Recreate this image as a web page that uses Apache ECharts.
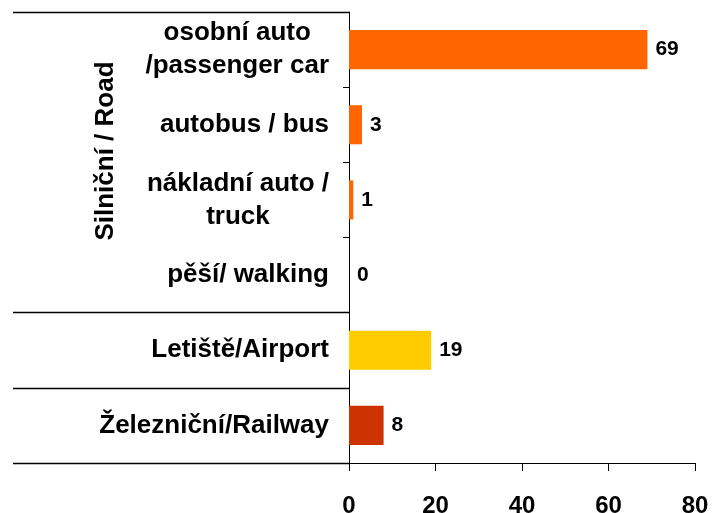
<!DOCTYPE html>
<html>
<head>
<meta charset="utf-8">
<script src="https://cdn.jsdelivr.net/npm/echarts@6/dist/echarts.min.js"></script>
<style>
    html, body {margin: 0; padding: 0; background: #fff;}
    #chart {width: 712px; height: 513px;}
</style>
</head>
<body>
<div id="chart"></div>
<script>
var categories = ['osobní auto\n/passenger car', 'autobus / bus', 'nákladní auto /\ntruck', 'pěší/ walking', 'Letiště/Airport', 'Železniční/Railway'];
var values = [69, 3, 1, 0, 19, 8];
var barColors = ['#FF6600', '#FF6600', '#FF6600', '#FF6600', '#FFCC00', '#CC3300'];
var xTicks = [0, 20, 40, 60, 80];
var groupLabel = 'Silniční / Road';
// category indices where a new group begins (long separator line)
var groupStarts = [0, 4, 5, 6];

var font = '"Liberation Sans", Arial, sans-serif';

function createChart(id) {
    var chart = echarts.init(document.getElementById(id));
    var barData = [];
    for (var i = 0; i < values.length; i++) {
        barData.push({value: values[i], itemStyle: {color: barColors[i]}});
    }
    var option = {
        animation: false,
        textStyle: {fontFamily: font},
        grid: {left: 349, right: 17, top: 12, bottom: 50, outerBoundsMode: 'none'},
        xAxis: {
            type: 'value',
            min: xTicks[0],
            max: xTicks[xTicks.length - 1],
            interval: 20,
            splitLine: {show: false},
            axisLine: {show: true, lineStyle: {color: '#000', width: 1}},
            axisTick: {show: true, length: 8, lineStyle: {color: '#000'}},
            axisLabel: {
                margin: 31,
                color: '#000',
                fontSize: 24,
                fontWeight: 'bold',
                fontFamily: font
            }
        },
        yAxis: [{
            type: 'category',
            inverse: true,
            data: categories,
            axisLine: {show: true, lineStyle: {color: '#000', width: 1}},
            axisTick: {show: true, length: 6, lineStyle: {color: '#000'}},
            axisLabel: {
                margin: 20,
                color: '#000',
                fontSize: 26,
                fontWeight: 'bold',
                fontFamily: font,
                lineHeight: 33,
                formatter: function (v) {
                    return v.split('\n').map(function (s) {
                        return '{c|' + s + '}';
                    }).join('\n');
                },
                rich: {
                    c: {
                        align: 'center',
                        color: '#000',
                        fontSize: 26,
                        fontWeight: 'bold',
                        fontFamily: font,
                        lineHeight: 33
                    }
                }
            }
        }, {
            type: 'category',
            inverse: true,
            position: 'left',
            data: categories,
            axisLine: {show: false},
            axisLabel: {show: false},
            axisTick: {
                show: true,
                length: 336,
                interval: function (index) {
                    return groupStarts.indexOf(index) >= 0;
                },
                lineStyle: {color: '#000', width: 1.3}
            }
        }],
        graphic: [{
            type: 'text',
            x: 106,
            y: 151,
            rotation: Math.PI / 2,
            style: {
                text: groupLabel,
                fill: '#000',
                font: 'bold 26px ' + font,
                align: 'center',
                verticalAlign: 'middle'
            }
        }],
        series: [{
            type: 'bar',
            data: barData,
            barCategoryGap: '48%',
            label: {
                show: true,
                position: 'right',
                distance: 8,
                color: '#000',
                fontSize: 21,
                fontWeight: 'bold',
                fontFamily: font
            }
        }]
    };
    chart.setOption(option);
    return chart;
}

createChart('chart');
</script>
</body>
</html>
